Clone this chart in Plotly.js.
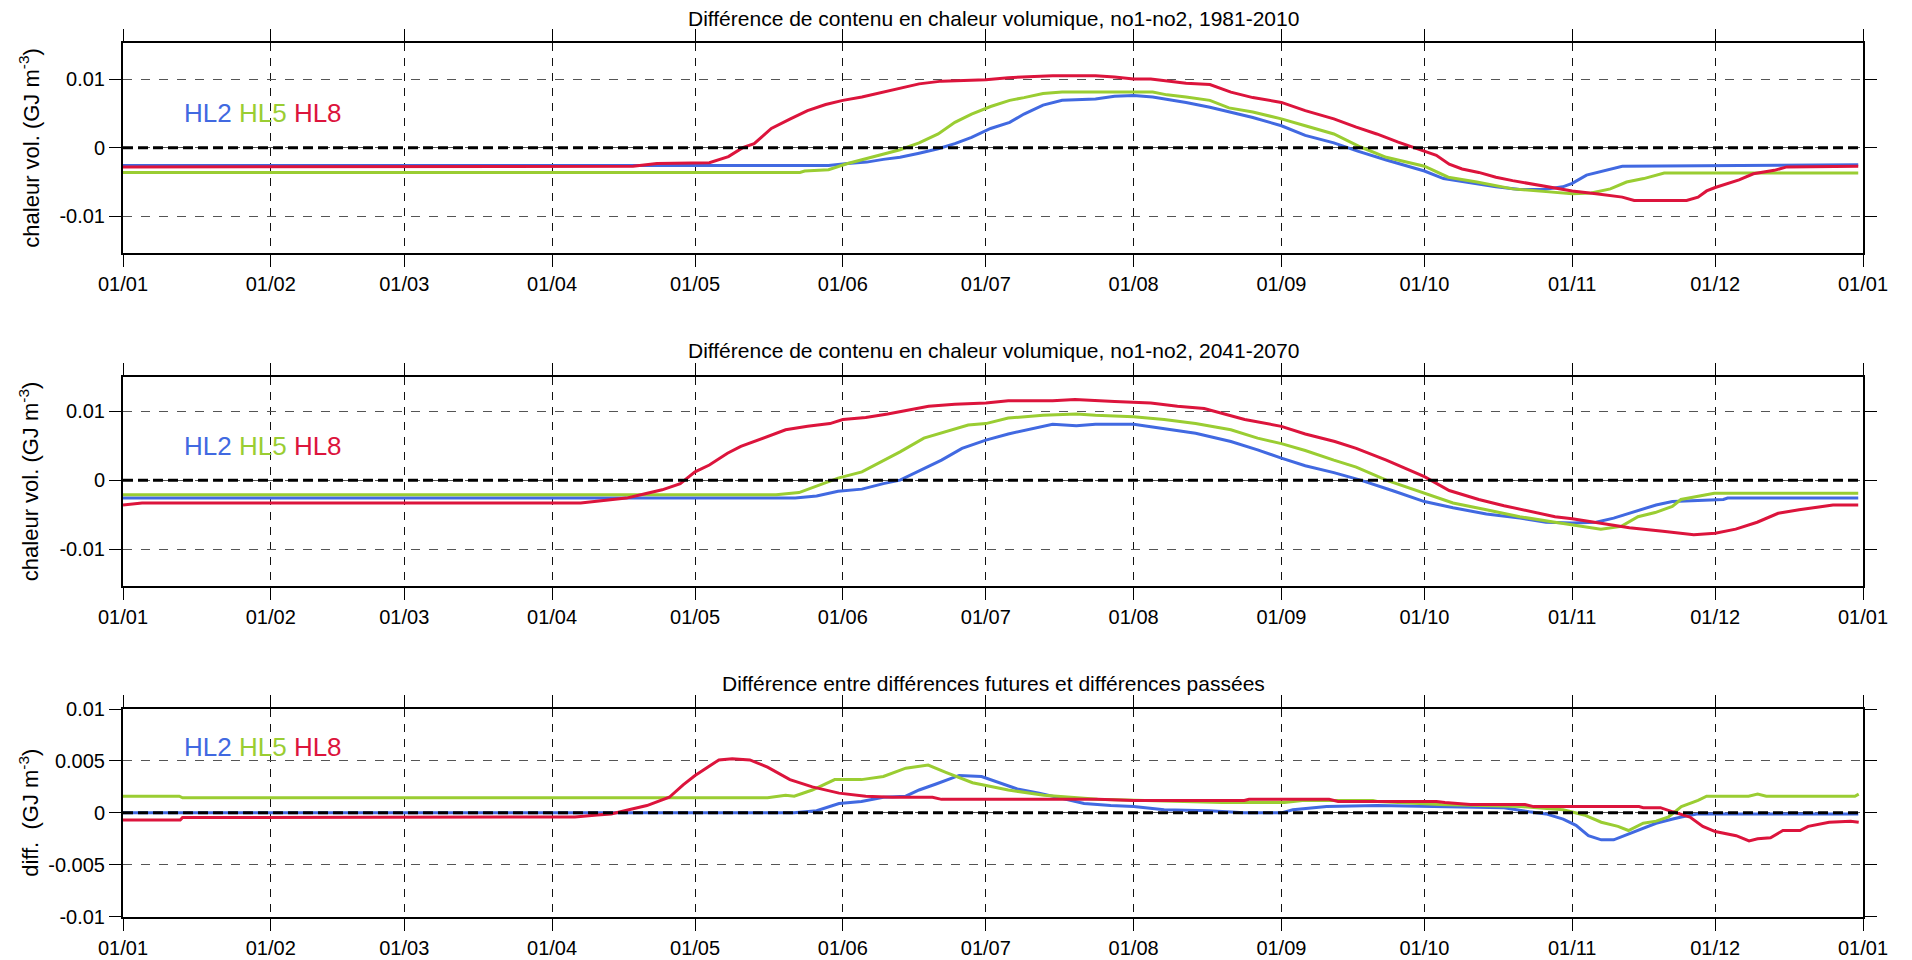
<!DOCTYPE html>
<html>
<head>
<meta charset="utf-8">
<script src="https://cdn.plot.ly/plotly-3.0.1.min.js"></script>
<style>html,body{margin:0;padding:0;background:#fff;}#chart{width:1912px;height:960px;}</style>
</head>
<body>
<div id="chart"></div>
<script>
// ---- axis ticks ----
const tickDays = [0, 31, 59, 90, 120, 151, 181, 212, 243, 273, 304, 334, 365];
const tickLabels = ['01/01','01/02','01/03','01/04','01/05','01/06','01/07','01/08','01/09','01/10','01/11','01/12','01/01'];
const yTicksTop = [-0.01, 0, 0.01];
const yTickTextTop = ['-0.01', '0', '0.01'];
const yTicksDiff = [-0.01, -0.005, 0, 0.005, 0.01];
const yTickTextDiff = ['-0.01', '-0.005', '0', '0.005', '0.01'];

const seriesNames = ['HL2', 'HL5', 'HL8'];
const panelTitles = [
  'Différence de contenu en chaleur volumique, no1-no2, 1981-2010',
  'Différence de contenu en chaleur volumique, no1-no2, 2041-2070',
  'Différence entre différences futures et différences passées'
];

// ---- Panel 1 : 1981-2010 ----
const p1_hl2_day = [0,148,152,156,159.5,163,167,171,174.5,178,182,186,189,193,197,201,204,208,212,216,219,223,228,232,237,243,248,254,259,265,273,277,283,288,293,298,302,304,307,312,314.5,364];
const p1_hl2_val = [-0.0026,-0.0026,-0.0023,-0.0021,-0.0017,-0.0014,-0.0008,-0.00015,0.0006,0.0015,0.0028,0.0037,0.0049,0.0062,0.0069,0.0070,0.0071,0.0075,0.0076,0.0074,0.0071,0.0066,0.0059,0.0052,0.0044,0.0032,0.0018,0.0007,-0.0005,-0.0018,-0.0034,-0.0045,-0.0052,-0.0057,-0.0061,-0.0061,-0.0057,-0.0052,-0.0040,-0.0031,-0.0027,-0.0025];

const p1_hl5_day = [0,142,143,148,152,156,159.5,163,167,171,174.5,178,182,186,189,193,197,201,206,212,216,219,223,228,232,237,243,248,254,259.6,265,273,278,284,291.5,298.5,304,308,312,315.4,319,323.3,364];
const p1_hl5_val = [-0.0036,-0.0036,-0.0034,-0.0032,-0.0023,-0.0016,-0.0010,-0.0003,0.0007,0.0020,0.0037,0.0049,0.0060,0.0069,0.0073,0.0079,0.0081,0.0081,0.0082,0.0081,0.0081,0.0077,0.0074,0.0069,0.0058,0.0052,0.0042,0.0032,0.0020,0.0001,-0.0014,-0.0027,-0.0043,-0.0050,-0.0060,-0.0064,-0.0067,-0.0066,-0.0060,-0.0050,-0.0045,-0.0037,-0.0037];

const p1_hl8_day = [0,107,112,120,123,127,130,132.4,136,140,143.6,147.4,151,155,159.5,163,167,171.7,176,181,185.7,190,195,200,204,208,212,215.6,219.4,223,228,232.4,237,243,248,254,258.7,263,267.5,273,275.5,278.2,280.9,284.4,288,291.5,298.5,304,309,314.5,317,328,330.4,332.2,334,339,342,346.4,349,364];
const p1_hl8_val = [-0.0028,-0.0027,-0.0023,-0.0023,-0.0022,-0.0013,0.0,0.0006,0.0028,0.0042,0.0054,0.0063,0.0069,0.0074,0.0081,0.0086,0.0093,0.0097,0.0098,0.0099,0.0102,0.0103,0.0105,0.0105,0.0105,0.0103,0.0100,0.0100,0.0097,0.0094,0.0092,0.0081,0.0073,0.0066,0.0054,0.0042,0.0030,0.0020,0.0008,-0.0005,-0.0011,-0.0024,-0.0031,-0.0036,-0.0043,-0.0048,-0.0057,-0.0063,-0.0067,-0.0072,-0.0077,-0.0077,-0.0072,-0.0063,-0.0058,-0.0047,-0.0038,-0.0033,-0.0028,-0.0027];

// ---- Panel 2 : 2041-2070 ----
const p2_hl2_day = [0,141,145.5,150,155,159.5,163,167,171.7,176,181,185.7,190,195,200,204,212,218.4,225,232.4,238,243,248,254,259.6,266.7,273,279,286,293,298.5,304,309,312.7,316.3,321.6,325,335.7,336.6,364];
const p2_hl2_val = [-0.0026,-0.0026,-0.0023,-0.0016,-0.0013,-0.0005,0.0,0.0013,0.0029,0.0046,0.0058,0.0067,0.0073,0.0081,0.0079,0.0081,0.0081,0.0075,0.0068,0.0056,0.0044,0.0032,0.0021,0.0011,0.0,-0.0016,-0.0031,-0.0040,-0.0049,-0.0055,-0.0061,-0.0062,-0.0061,-0.0055,-0.0047,-0.0036,-0.0031,-0.0028,-0.0026,-0.0026];

const p2_hl5_day = [0,137,141.8,145.5,150,155,159.5,163,168,172.6,177.3,181,185.7,193,200,204,212,218.4,225,232.4,238,243,248,254,258.7,265,273,279,286,293,300.4,304,310,314.3,317.8,321.4,325,326.8,330.3,333.8,364];
const p2_hl5_val = [-0.0021,-0.0021,-0.0018,-0.0009,0.0003,0.0012,0.0028,0.0041,0.0061,0.0070,0.0080,0.0082,0.0090,0.0094,0.0096,0.0094,0.0092,0.0088,0.0082,0.0073,0.0061,0.0053,0.0043,0.0029,0.0019,0.0,-0.0019,-0.0033,-0.0043,-0.0053,-0.0061,-0.0065,-0.0071,-0.0067,-0.0053,-0.0047,-0.0038,-0.0028,-0.0024,-0.0019,-0.0019];

const p2_hl8_day = [0,4,96,100.8,105.6,109.3,113.1,116.9,120,123,126.8,129.6,134.3,139,143.6,148.3,151,155.8,160.4,165,169,174.5,181,185.7,195,199.7,204.4,208,215.6,221.2,226.8,230.6,235.3,243,248,254.2,258.7,265,273,278.2,284.4,289.7,295,300.4,304,310,316,323,329.5,334,338.3,342.8,347.2,351.6,358.7,364];
const p2_hl8_val = [-0.0036,-0.0033,-0.0033,-0.0029,-0.0026,-0.0020,-0.0014,-0.0005,0.0012,0.0022,0.0039,0.0049,0.0061,0.0073,0.0078,0.0082,0.0088,0.0091,0.0096,0.0102,0.0107,0.0110,0.0112,0.0115,0.0115,0.0117,0.0115,0.0114,0.0112,0.0107,0.0104,0.0097,0.0088,0.0078,0.0067,0.0056,0.0046,0.0029,0.0005,-0.0015,-0.0028,-0.0037,-0.0045,-0.0053,-0.0056,-0.0062,-0.0069,-0.0074,-0.0079,-0.0077,-0.0071,-0.0061,-0.0048,-0.0043,-0.0036,-0.0036];

// ---- Panel 3 : future minus past ----
const p3_hl2_day = [0,140.8,145.5,150.2,154.9,159.5,164.2,167,170.7,175.4,180.1,183.8,187.6,192.2,196.9,201.6,207.2,212,218.4,227.8,235.2,243,245.4,252.5,263.1,276.4,289.7,295,298.5,302.1,304.8,307.4,310.1,312.7,315.4,318.9,321.6,325.1,326.9,330.4,364];
const p3_hl2_val = [0,0,0.0002,0.0009,0.0011,0.0015,0.0016,0.0022,0.0028,0.0036,0.0035,0.0029,0.0023,0.0019,0.0014,0.0009,0.0007,0.0006,0.0003,0.0002,0.0,0.0,0.0003,0.0006,0.0007,0.0006,0.0005,0.0001,-0.0001,-0.0006,-0.0012,-0.0022,-0.0026,-0.0026,-0.0021,-0.0015,-0.0010,-0.0006,-0.0004,-0.0001,-0.0001];

const p3_hl5_day = [0,11.8,12.5,135.2,139,140.8,144.6,149.3,154.9,159.5,164.2,168.9,172.6,178.2,185.7,193.2,204.4,213.7,230.5,243.6,247.4,262.2,263.1,276.4,293.2,302.1,306.5,310.1,313.6,315.8,318.9,321.6,324.2,326.9,330.4,332.2,341,342.9,344.7,363.3,364.1];
const p3_hl5_val = [0.0016,0.0016,0.00145,0.00145,0.0017,0.0016,0.0022,0.0032,0.0032,0.0035,0.0043,0.0046,0.0039,0.0029,0.0022,0.0017,0.0013,0.0012,0.0010,0.0010,0.0012,0.0012,0.0011,0.0008,0.0006,0.0003,-0.0002,-0.0009,-0.0013,-0.0017,-0.0010,-0.0008,-0.0004,0.0006,0.0012,0.0016,0.0016,0.0018,0.0016,0.0016,0.0018];

const p3_hl8_day = [0,12,12.5,94.8,99.5,102.4,106.1,109.9,114.6,117.5,120,125,127.8,131.5,135.2,139.9,144.6,150.2,155.8,161.4,169.8,171.7,204.4,212,235.2,236.2,253,254.9,275.5,277.3,282.6,294.1,295.9,318,318.9,322.5,325.1,328.7,331.4,334,338.4,341.1,342.9,345.6,348.2,351.8,353.5,357.9,362.4,364.1];
const p3_hl8_val = [-0.0007,-0.0007,-0.00045,-0.0004,-0.0002,-0.0001,0.0003,0.0007,0.0015,0.0027,0.0036,0.0051,0.0052,0.0051,0.0044,0.0032,0.0025,0.0019,0.0016,0.0015,0.0015,0.0013,0.0013,0.0012,0.0012,0.0013,0.0013,0.0011,0.0011,0.0010,0.0008,0.0008,0.0006,0.0006,0.0005,0.0005,0.0001,-0.0004,-0.0013,-0.0018,-0.0022,-0.0027,-0.0025,-0.0024,-0.0017,-0.0017,-0.0013,-0.0009,-0.0008,-0.0009];

// ---- styling ----
const colors = ['#4169E1', '#9ACD32', '#DC143C'];
const FONT = 'Liberation Sans, Arial, Helvetica, sans-serif';
const W = 1912, H = 960;
const xd = [123 / W, 1863 / W];
const panelsPx = [[42.7, 252.7], [376.7, 585.7], [709, 916.7]];
const yDomains = panelsPx.map(p => [1 - p[1] / H, 1 - p[0] / H]);
const yRanges = [[-0.0153, 0.0153], [-0.0153, 0.0150], [-0.01, 0.01]];

const panelData = [
  [[p1_hl2_day, p1_hl2_val], [p1_hl5_day, p1_hl5_val], [p1_hl8_day, p1_hl8_val]],
  [[p2_hl2_day, p2_hl2_val], [p2_hl5_day, p2_hl5_val], [p2_hl8_day, p2_hl8_val]],
  [[p3_hl2_day, p3_hl2_val], [p3_hl5_day, p3_hl5_val], [p3_hl8_day, p3_hl8_val]]
];

const traces = [];
panelData.forEach((panel, pi) => {
  panel.forEach((s, si) => {
    traces.push({
      type: 'scatter', mode: 'lines',
      x: s[0], y: s[1], name: seriesNames[si],
      xaxis: pi === 0 ? 'x' : 'x' + (pi + 1),
      yaxis: pi === 0 ? 'y' : 'y' + (pi + 1),
      line: {color: colors[si], width: 3},
      showlegend: false, hoverinfo: 'skip'
    });
  });
});

const layout = {
  width: W, height: H,
  margin: {l: 0, r: 0, t: 0, b: 0},
  paper_bgcolor: '#fff', plot_bgcolor: '#fff',
  font: {family: FONT, size: 20, color: '#000'},
  showlegend: false,
  shapes: [], annotations: []
};

for (let i = 0; i < 3; i++) {
  const sx = i === 0 ? '' : String(i + 1);
  layout['xaxis' + sx] = {
    domain: xd, range: [0, 365], anchor: 'y' + sx,
    tickmode: 'array', tickvals: tickDays, ticktext: tickLabels,
    ticks: 'outside', ticklen: 12, tickwidth: 1, tickcolor: '#000',
    showline: true, linecolor: '#000', linewidth: 2, mirror: 'ticks',
    showgrid: true, gridcolor: '#111', gridwidth: 1, griddash: '8px,7px',
    zeroline: false, fixedrange: true,
    tickfont: {family: FONT, size: 20, color: '#000'}
  };
  layout['yaxis' + sx] = {
    domain: yDomains[i], range: yRanges[i], anchor: 'x' + sx,
    tickmode: 'array',
    tickvals: i === 2 ? yTicksDiff : yTicksTop,
    ticktext: i === 2 ? yTickTextDiff : yTickTextTop,
    ticks: 'outside', ticklen: 12, tickwidth: 1, tickcolor: '#000',
    showline: true, linecolor: '#000', linewidth: 2, mirror: 'ticks',
    showgrid: true, gridcolor: '#555', gridwidth: 1, griddash: '9px,9px',
    zeroline: false, fixedrange: true,
    tickfont: {family: FONT, size: 20, color: '#000'}
  };
  layout.shapes.push({
    type: 'line', xref: 'paper', yref: 'y' + sx,
    x0: xd[0], x1: xd[1] - 0.002, y0: 0, y1: 0,
    line: {color: '#000', width: 3, dash: '10px,5px'}, layer: 'above'
  });
  const midY = 1 - ((panelsPx[i][0] + panelsPx[i][1]) / 2) / H;
  // panel title
  layout.annotations.push({
    xref: 'paper', yref: 'paper', x: (xd[0] + xd[1]) / 2,
    y: 1 - [18.3, 350.7, 683.3][i] / H, xanchor: 'center', yanchor: 'middle',
    text: panelTitles[i], showarrow: false,
    font: {family: FONT, size: 21, color: '#000'}
  });
  // coloured series labels
  layout.annotations.push({
    xref: 'paper', yref: 'paper', x: 182 / W,
    y: 1 - [113, 446, 746.7][i] / H, xanchor: 'left', yanchor: 'middle',
    text: seriesNames.map((n, k) => '<span style="color:' + colors[k] + '">' + n + '</span>').join(' '),
    showarrow: false, font: {family: FONT, size: 26}
  });
  // y axis title
  layout.annotations.push({
    xref: 'paper', yref: 'paper', x: 29 / W, y: midY,
    xanchor: 'center', yanchor: 'middle', textangle: -90,
    text: (i === 2 ? 'diff.  (GJ m<sup>-3</sup>)' : 'chaleur vol. (GJ m<sup>-3</sup>)'),
    showarrow: false, font: {family: FONT, size: 22, color: '#000'}
  });
}

Plotly.newPlot('chart', traces, layout, {displayModeBar: false, staticPlot: true});
</script>
</body>
</html>
